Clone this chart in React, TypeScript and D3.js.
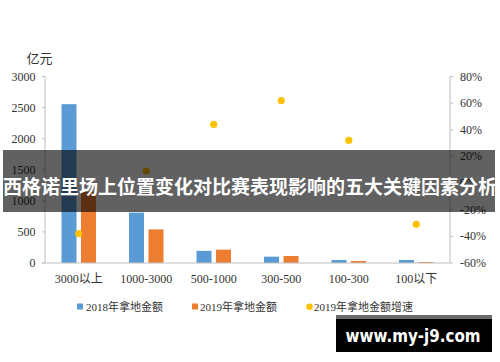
import React from "react";
import { scaleBand, scaleLinear } from "d3";

const categories = ["3000以上", "1000-3000", "500-1000", "300-500", "100-300", "100以下"];
const amount2018 = [2555, 810, 195, 102, 48, 48];
const amount2019 = [1150, 540, 215, 113, 32, 16];
const growth2019 = [-38, 9, 44, 62, 32, -31];
const leftTicks = [0, 500, 1000, 1500, 2000, 2500, 3000];
const rightTicks = [-60, -40, -20, 0, 20, 40, 60, 80];
const seriesNames = ["2018年拿地金额", "2019年拿地金额", "2019年拿地金额增速"];
const titleText = "西格诺里场上位置变化对比赛表现影响的五大关键因素分析";
const watermark = "www.my-j9.com";

const BLUE = "#5b9bd5";
const ORANGE = "#ed7d31";
const YELLOW = "#ffc000";
const AXIS = "#bfbfbf";
const FONT = "'Liberation Serif', 'Noto Sans CJK SC', serif";

export default function App() {
    let width = 500;
    let height = 362;
    let margin = { left: 45, right: 50, top: 76.5, bottom: 99 };
    let plotBottom = height - margin.bottom; // 263
    let plotRight = width - margin.right; // 450

    let xScale = scaleBand().domain(categories).range([margin.left, plotRight]);
    let innerScale = scaleBand().domain(["a", "b"]).range([0, 34.5]).paddingInner(0.23);
    let yScale = scaleLinear().domain([0, 3000]).range([plotBottom, margin.top]);
    let rScale = scaleLinear().domain([-60, 80]).range([plotBottom, margin.top]);

    const center = (c) => xScale(c) + xScale.bandwidth() / 2;
    const groupLeft = (c) => center(c) - 34.5 / 2;

    return (
        <div style={{ position: "absolute", left: 0, top: 0 }}>
            <svg width={width} height={height} style={{ display: "block", background: "#fff" }} fontFamily={FONT}>
                {/* unit label */}
                <text x={39.5} y={58} fontSize={13} textAnchor="middle" dominantBaseline="central" fill="#333">
                    亿元
                </text>

                {/* left axis */}
                <line x1={margin.left} x2={margin.left} y1={margin.top} y2={plotBottom} stroke={AXIS} />
                {leftTicks.map((t) => (
                    <g key={"l" + t}>
                        <line x1={margin.left - 3} x2={margin.left} y1={yScale(t)} y2={yScale(t)} stroke={AXIS} />
                        <text x={35.5} y={yScale(t)} fontSize={12} textAnchor="end" dominantBaseline="central" fill="#333">
                            {t}
                        </text>
                    </g>
                ))}

                {/* right axis */}
                <line x1={plotRight} x2={plotRight} y1={margin.top} y2={plotBottom} stroke={AXIS} />
                {rightTicks.map((t) => (
                    <g key={"r" + t}>
                        <line x1={plotRight} x2={plotRight + 3} y1={rScale(t)} y2={rScale(t)} stroke={AXIS} />
                        <text x={460} y={rScale(t)} fontSize={12} dominantBaseline="central" fill="#333">
                            {t + "%"}
                        </text>
                    </g>
                ))}

                {/* bars */}
                {categories.map((c, i) => (
                    <g key={"b" + c}>
                        <rect
                            x={groupLeft(c) + innerScale("a")}
                            y={yScale(amount2018[i])}
                            width={innerScale.bandwidth()}
                            height={plotBottom - yScale(amount2018[i])}
                            fill={BLUE}
                        />
                        <rect
                            x={groupLeft(c) + innerScale("b")}
                            y={yScale(amount2019[i])}
                            width={innerScale.bandwidth()}
                            height={plotBottom - yScale(amount2019[i])}
                            fill={ORANGE}
                        />
                    </g>
                ))}

                {/* x axis */}
                <line x1={margin.left - 3} x2={plotRight} y1={plotBottom} y2={plotBottom} stroke={AXIS} />
                {categories.map((c) => (
                    <text key={"x" + c} x={center(c)} y={283} fontSize={12} textAnchor="middle" fill="#333">
                        {c}
                    </text>
                ))}

                {/* growth dots */}
                {categories.map((c, i) => (
                    <circle key={"d" + c} cx={center(c)} cy={rScale(growth2019[i])} r={3.6} fill={YELLOW} />
                ))}

                {/* legend */}
                <rect x={77} y={303.5} width={6} height={6} fill={BLUE} />
                <text x={86} y={306.7} fontSize={11} dominantBaseline="central" fill="#333">
                    {seriesNames[0]}
                </text>
                <rect x={192} y={303.5} width={6} height={6} fill={ORANGE} />
                <text x={200} y={306.7} fontSize={11} dominantBaseline="central" fill="#333">
                    {seriesNames[1]}
                </text>
                <circle cx={309.5} cy={306.7} r={3.3} fill={YELLOW} />
                <text x={314} y={306.7} fontSize={11} dominantBaseline="central" fill="#333">
                    {seriesNames[2]}
                </text>

                {/* title banner */}
                <rect x={3} y={150} width={492} height={62} fill="rgba(0,0,0,0.62)" />
                <text
                    x={250}
                    y={185}
                    fontSize={19}
                    fontWeight="bold"
                    textAnchor="middle"
                    dominantBaseline="central"
                    fill="#fff"
                    fontFamily="'Noto Sans CJK SC', sans-serif"
                >
                    {titleText}
                </text>

                {/* watermark */}
                <rect x={336} y={315} width={156} height={4} fill="#6b6b6b" />
                <rect x={336} y={319} width={156} height={33} fill="#000" />
                <text
                    x={413}
                    y={336}
                    fontSize={17}
                    fontWeight="bold"
                    textAnchor="middle"
                    dominantBaseline="central"
                    fill="#fff"
                    fontFamily="'DejaVu Sans', sans-serif"
                    textLength={135}
                    lengthAdjust="spacingAndGlyphs"
                >
                    {watermark}
                </text>
            </svg>
        </div>
    );
}
